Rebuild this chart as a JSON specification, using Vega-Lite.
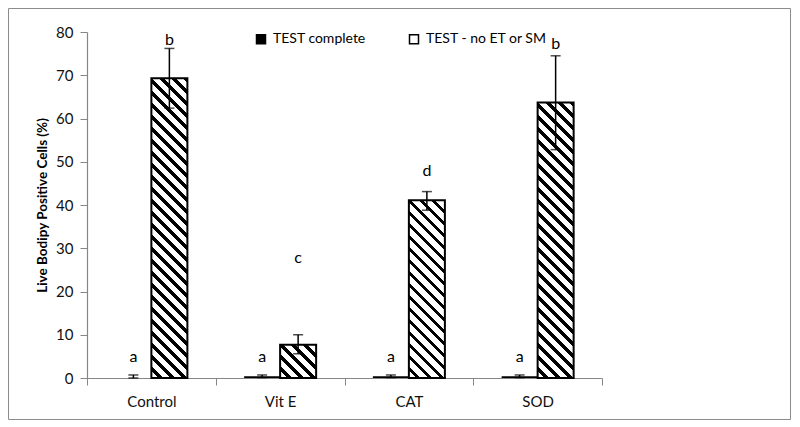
{
  "$schema": "https://vega.github.io/schema/vega-lite/v6.json",
  "width": 782,
  "height": 411,
  "autosize": {"type": "none"},
  "padding": {"left": 8, "top": 8, "right": 10, "bottom": 8},
  "background": "white",
  "config": {
    "font": "Lato",
    "view": {"stroke": "#8c8c8c", "strokeWidth": 1}
  },
  "data": {
    "values": [
      {"cat": "Control", "series": "TEST complete", "value": 0, "lo": 0, "hi": 0.7, "letter": "a", "ly": 3.7},
      {"cat": "Control", "series": "TEST - no ET or SM", "value": 69.3, "lo": 62.4, "hi": 76.2, "letter": "b", "ly": 77.0},
      {"cat": "Vit E", "series": "TEST complete", "value": 0.4, "lo": 0.1, "hi": 0.7, "letter": "a", "ly": 3.7},
      {"cat": "Vit E", "series": "TEST - no ET or SM", "value": 7.7, "lo": 5.6, "hi": 10.0, "letter": "c", "ly": 26.6},
      {"cat": "CAT", "series": "TEST complete", "value": 0.4, "lo": 0.1, "hi": 0.7, "letter": "a", "ly": 3.7},
      {"cat": "CAT", "series": "TEST - no ET or SM", "value": 41.1, "lo": 38.8, "hi": 43.1, "letter": "d", "ly": 46.7},
      {"cat": "SOD", "series": "TEST complete", "value": 0.4, "lo": 0.1, "hi": 0.7, "letter": "a", "ly": 3.7},
      {"cat": "SOD", "series": "TEST - no ET or SM", "value": 63.7, "lo": 52.8, "hi": 74.5, "letter": "b", "ly": 76.1}
    ]
  },
  "encoding": {
    "x": {
      "field": "cat", "type": "nominal",
      "sort": ["Control", "Vit E", "CAT", "SOD"],
      "scale": {"range": [79, 594], "paddingInner": 0, "paddingOuter": 0},
      "axis": {
        "title": null, "offset": -41, "labelAngle": 0,
        "labelFont": "Lato", "labelFontSize": 15, "labelColor": "#111",
        "labelPadding": 9, "tickBand": "extent", "tickSize": 7,
        "tickColor": "#868686", "domainColor": "#868686", "domainWidth": 1.2
      }
    },
    "xOffset": {
      "field": "series", "type": "nominal",
      "scale": {"domain": ["TEST complete", "TEST - no ET or SM"], "paddingInner": 0, "paddingOuter": 0.788}
    }
  },
  "layer": [
    {
      "transform": [{"filter": "datum.series === 'TEST complete'"}],
      "mark": {"type": "bar", "strokeWidth": 0},
      "encoding": {
        "y": {
          "field": "value", "type": "quantitative",
          "scale": {"domain": [0, 80], "range": [370, 24], "nice": false, "zero": true},
          "axis": {
            "title": "Live Bodipy Positive Cells (%)", "offset": -79,
            "values": [0, 10, 20, 30, 40, 50, 60, 70, 80],
            "grid": false, "labelFont": "Lato", "labelFontSize": 15, "labelColor": "#111",
            "labelPadding": 7, "tickSize": 7, "tickColor": "#868686",
            "domainColor": "#868686", "domainWidth": 1.2,
            "titleFont": "Lato", "titleFontSize": 13.5, "titleFontWeight": "bold",
            "titleColor": "#000", "titlePadding": 6
          }
        },
        "color": {
          "field": "series", "type": "nominal",
          "scale": {"domain": ["TEST complete", "TEST - no ET or SM"], "range": ["#000000", "#ffffff"]},
          "legend": {
            "title": null, "orient": "none", "direction": "horizontal",
            "legendX": 246, "legendY": 24, "padding": 0,
            "symbolType": "square", "symbolSize": 81,
            "symbolStrokeColor": "#000", "symbolStrokeWidth": 1.5,
            "labelFont": "Lato", "labelFontSize": 14, "labelColor": "#000",
            "labelOffset": 5, "columnPadding": 40,
            "encode": {"symbols": {"update": {"stroke": {"value": "#000"}, "strokeWidth": {"value": 1.5}}}}
          }
        }
      }
    },
    {
      "transform": [{"filter": "datum.cat === 'Control' && datum.series === 'TEST - no ET or SM'"}],
      "mark": {"type": "bar", "stroke": "#000", "strokeWidth": 2,
        "fill": {"gradient": "linear", "x1": 0, "y1": 1, "x2": 0.13275, "y2": -0.10517, "stops": [
          {"offset":0,"color":"#fff"},{"offset":0.02143,"color":"#fff"},{"offset":0.02143,"color":"#000"},{"offset":0.03571,"color":"#000"},
          {"offset":0.03571,"color":"#fff"},{"offset":0.05714,"color":"#fff"},{"offset":0.05714,"color":"#000"},{"offset":0.07143,"color":"#000"},
          {"offset":0.07143,"color":"#fff"},{"offset":0.09286,"color":"#fff"},{"offset":0.09286,"color":"#000"},{"offset":0.10714,"color":"#000"},
          {"offset":0.10714,"color":"#fff"},{"offset":0.12857,"color":"#fff"},{"offset":0.12857,"color":"#000"},{"offset":0.14286,"color":"#000"},
          {"offset":0.14286,"color":"#fff"},{"offset":0.16429,"color":"#fff"},{"offset":0.16429,"color":"#000"},{"offset":0.17857,"color":"#000"},
          {"offset":0.17857,"color":"#fff"},{"offset":0.2,"color":"#fff"},{"offset":0.2,"color":"#000"},{"offset":0.21429,"color":"#000"},
          {"offset":0.21429,"color":"#fff"},{"offset":0.23571,"color":"#fff"},{"offset":0.23571,"color":"#000"},{"offset":0.25,"color":"#000"},
          {"offset":0.25,"color":"#fff"},{"offset":0.27143,"color":"#fff"},{"offset":0.27143,"color":"#000"},{"offset":0.28571,"color":"#000"},
          {"offset":0.28571,"color":"#fff"},{"offset":0.30714,"color":"#fff"},{"offset":0.30714,"color":"#000"},{"offset":0.32143,"color":"#000"},
          {"offset":0.32143,"color":"#fff"},{"offset":0.34286,"color":"#fff"},{"offset":0.34286,"color":"#000"},{"offset":0.35714,"color":"#000"},
          {"offset":0.35714,"color":"#fff"},{"offset":0.37857,"color":"#fff"},{"offset":0.37857,"color":"#000"},{"offset":0.39286,"color":"#000"},
          {"offset":0.39286,"color":"#fff"},{"offset":0.41429,"color":"#fff"},{"offset":0.41429,"color":"#000"},{"offset":0.42857,"color":"#000"},
          {"offset":0.42857,"color":"#fff"},{"offset":0.45,"color":"#fff"},{"offset":0.45,"color":"#000"},{"offset":0.46429,"color":"#000"},
          {"offset":0.46429,"color":"#fff"},{"offset":0.48571,"color":"#fff"},{"offset":0.48571,"color":"#000"},{"offset":0.5,"color":"#000"},
          {"offset":0.5,"color":"#fff"},{"offset":0.52143,"color":"#fff"},{"offset":0.52143,"color":"#000"},{"offset":0.53571,"color":"#000"},
          {"offset":0.53571,"color":"#fff"},{"offset":0.55714,"color":"#fff"},{"offset":0.55714,"color":"#000"},{"offset":0.57143,"color":"#000"},
          {"offset":0.57143,"color":"#fff"},{"offset":0.59286,"color":"#fff"},{"offset":0.59286,"color":"#000"},{"offset":0.60714,"color":"#000"},
          {"offset":0.60714,"color":"#fff"},{"offset":0.62857,"color":"#fff"},{"offset":0.62857,"color":"#000"},{"offset":0.64286,"color":"#000"},
          {"offset":0.64286,"color":"#fff"},{"offset":0.66429,"color":"#fff"},{"offset":0.66429,"color":"#000"},{"offset":0.67857,"color":"#000"},
          {"offset":0.67857,"color":"#fff"},{"offset":0.7,"color":"#fff"},{"offset":0.7,"color":"#000"},{"offset":0.71429,"color":"#000"},
          {"offset":0.71429,"color":"#fff"},{"offset":0.73571,"color":"#fff"},{"offset":0.73571,"color":"#000"},{"offset":0.75,"color":"#000"},
          {"offset":0.75,"color":"#fff"},{"offset":0.77143,"color":"#fff"},{"offset":0.77143,"color":"#000"},{"offset":0.78571,"color":"#000"},
          {"offset":0.78571,"color":"#fff"},{"offset":0.80714,"color":"#fff"},{"offset":0.80714,"color":"#000"},{"offset":0.82143,"color":"#000"},
          {"offset":0.82143,"color":"#fff"},{"offset":0.84286,"color":"#fff"},{"offset":0.84286,"color":"#000"},{"offset":0.85714,"color":"#000"},
          {"offset":0.85714,"color":"#fff"},{"offset":0.87857,"color":"#fff"},{"offset":0.87857,"color":"#000"},{"offset":0.89286,"color":"#000"},
          {"offset":0.89286,"color":"#fff"},{"offset":0.91429,"color":"#fff"},{"offset":0.91429,"color":"#000"},{"offset":0.92857,"color":"#000"},
          {"offset":0.92857,"color":"#fff"},{"offset":0.95,"color":"#fff"},{"offset":0.95,"color":"#000"},{"offset":0.96429,"color":"#000"},
          {"offset":0.96429,"color":"#fff"},{"offset":0.98571,"color":"#fff"},{"offset":0.98571,"color":"#000"},{"offset":1,"color":"#000"}
        ]}},
      "encoding": {"y": {"field": "value", "type": "quantitative"}}
    },
    {
      "transform": [{"filter": "datum.cat === 'Vit E' && datum.series === 'TEST - no ET or SM'"}],
      "mark": {"type": "bar", "stroke": "#000", "strokeWidth": 2,
        "fill": {"gradient": "linear", "x1": 0, "y1": 1, "x2": 5.0297, "y2": -3.6525, "stops": [
          {"offset":0,"color":"#fff"},{"offset":0.02143,"color":"#fff"},{"offset":0.02143,"color":"#000"},{"offset":0.03571,"color":"#000"},
          {"offset":0.03571,"color":"#fff"},{"offset":0.05714,"color":"#fff"},{"offset":0.05714,"color":"#000"},{"offset":0.07143,"color":"#000"},
          {"offset":0.07143,"color":"#fff"},{"offset":0.09286,"color":"#fff"},{"offset":0.09286,"color":"#000"},{"offset":0.10714,"color":"#000"},
          {"offset":0.10714,"color":"#fff"},{"offset":0.12857,"color":"#fff"},{"offset":0.12857,"color":"#000"},{"offset":0.14286,"color":"#000"},
          {"offset":0.14286,"color":"#fff"},{"offset":0.16429,"color":"#fff"},{"offset":0.16429,"color":"#000"},{"offset":0.17857,"color":"#000"},
          {"offset":0.17857,"color":"#fff"},{"offset":0.2,"color":"#fff"},{"offset":0.2,"color":"#000"},{"offset":0.21429,"color":"#000"},
          {"offset":0.21429,"color":"#fff"},{"offset":0.23571,"color":"#fff"},{"offset":0.23571,"color":"#000"},{"offset":0.25,"color":"#000"},
          {"offset":0.25,"color":"#fff"},{"offset":0.27143,"color":"#fff"},{"offset":0.27143,"color":"#000"},{"offset":0.28571,"color":"#000"},
          {"offset":0.28571,"color":"#fff"},{"offset":0.30714,"color":"#fff"},{"offset":0.30714,"color":"#000"},{"offset":0.32143,"color":"#000"},
          {"offset":0.32143,"color":"#fff"},{"offset":0.34286,"color":"#fff"},{"offset":0.34286,"color":"#000"},{"offset":0.35714,"color":"#000"},
          {"offset":0.35714,"color":"#fff"},{"offset":0.37857,"color":"#fff"},{"offset":0.37857,"color":"#000"},{"offset":0.39286,"color":"#000"},
          {"offset":0.39286,"color":"#fff"},{"offset":0.41429,"color":"#fff"},{"offset":0.41429,"color":"#000"},{"offset":0.42857,"color":"#000"},
          {"offset":0.42857,"color":"#fff"},{"offset":0.45,"color":"#fff"},{"offset":0.45,"color":"#000"},{"offset":0.46429,"color":"#000"},
          {"offset":0.46429,"color":"#fff"},{"offset":0.48571,"color":"#fff"},{"offset":0.48571,"color":"#000"},{"offset":0.5,"color":"#000"},
          {"offset":0.5,"color":"#fff"},{"offset":0.52143,"color":"#fff"},{"offset":0.52143,"color":"#000"},{"offset":0.53571,"color":"#000"},
          {"offset":0.53571,"color":"#fff"},{"offset":0.55714,"color":"#fff"},{"offset":0.55714,"color":"#000"},{"offset":0.57143,"color":"#000"},
          {"offset":0.57143,"color":"#fff"},{"offset":0.59286,"color":"#fff"},{"offset":0.59286,"color":"#000"},{"offset":0.60714,"color":"#000"},
          {"offset":0.60714,"color":"#fff"},{"offset":0.62857,"color":"#fff"},{"offset":0.62857,"color":"#000"},{"offset":0.64286,"color":"#000"},
          {"offset":0.64286,"color":"#fff"},{"offset":0.66429,"color":"#fff"},{"offset":0.66429,"color":"#000"},{"offset":0.67857,"color":"#000"},
          {"offset":0.67857,"color":"#fff"},{"offset":0.7,"color":"#fff"},{"offset":0.7,"color":"#000"},{"offset":0.71429,"color":"#000"},
          {"offset":0.71429,"color":"#fff"},{"offset":0.73571,"color":"#fff"},{"offset":0.73571,"color":"#000"},{"offset":0.75,"color":"#000"},
          {"offset":0.75,"color":"#fff"},{"offset":0.77143,"color":"#fff"},{"offset":0.77143,"color":"#000"},{"offset":0.78571,"color":"#000"},
          {"offset":0.78571,"color":"#fff"},{"offset":0.80714,"color":"#fff"},{"offset":0.80714,"color":"#000"},{"offset":0.82143,"color":"#000"},
          {"offset":0.82143,"color":"#fff"},{"offset":0.84286,"color":"#fff"},{"offset":0.84286,"color":"#000"},{"offset":0.85714,"color":"#000"},
          {"offset":0.85714,"color":"#fff"},{"offset":0.87857,"color":"#fff"},{"offset":0.87857,"color":"#000"},{"offset":0.89286,"color":"#000"},
          {"offset":0.89286,"color":"#fff"},{"offset":0.91429,"color":"#fff"},{"offset":0.91429,"color":"#000"},{"offset":0.92857,"color":"#000"},
          {"offset":0.92857,"color":"#fff"},{"offset":0.95,"color":"#fff"},{"offset":0.95,"color":"#000"},{"offset":0.96429,"color":"#000"},
          {"offset":0.96429,"color":"#fff"},{"offset":0.98571,"color":"#fff"},{"offset":0.98571,"color":"#000"},{"offset":1,"color":"#000"}
        ]}},
      "encoding": {"y": {"field": "value", "type": "quantitative"}}
    },
    {
      "transform": [{"filter": "datum.cat === 'CAT' && datum.series === 'TEST - no ET or SM'"}],
      "mark": {"type": "bar", "stroke": "#000", "strokeWidth": 2,
        "fill": {"gradient": "linear", "x1": 0, "y1": 1, "x2": 0.36772, "y2": -0.81572, "stops": [
          {"offset":0,"color":"#fff"},{"offset":0.02143,"color":"#fff"},{"offset":0.02143,"color":"#000"},{"offset":0.03571,"color":"#000"},
          {"offset":0.03571,"color":"#fff"},{"offset":0.05714,"color":"#fff"},{"offset":0.05714,"color":"#000"},{"offset":0.07143,"color":"#000"},
          {"offset":0.07143,"color":"#fff"},{"offset":0.09286,"color":"#fff"},{"offset":0.09286,"color":"#000"},{"offset":0.10714,"color":"#000"},
          {"offset":0.10714,"color":"#fff"},{"offset":0.12857,"color":"#fff"},{"offset":0.12857,"color":"#000"},{"offset":0.14286,"color":"#000"},
          {"offset":0.14286,"color":"#fff"},{"offset":0.16429,"color":"#fff"},{"offset":0.16429,"color":"#000"},{"offset":0.17857,"color":"#000"},
          {"offset":0.17857,"color":"#fff"},{"offset":0.2,"color":"#fff"},{"offset":0.2,"color":"#000"},{"offset":0.21429,"color":"#000"},
          {"offset":0.21429,"color":"#fff"},{"offset":0.23571,"color":"#fff"},{"offset":0.23571,"color":"#000"},{"offset":0.25,"color":"#000"},
          {"offset":0.25,"color":"#fff"},{"offset":0.27143,"color":"#fff"},{"offset":0.27143,"color":"#000"},{"offset":0.28571,"color":"#000"},
          {"offset":0.28571,"color":"#fff"},{"offset":0.30714,"color":"#fff"},{"offset":0.30714,"color":"#000"},{"offset":0.32143,"color":"#000"},
          {"offset":0.32143,"color":"#fff"},{"offset":0.34286,"color":"#fff"},{"offset":0.34286,"color":"#000"},{"offset":0.35714,"color":"#000"},
          {"offset":0.35714,"color":"#fff"},{"offset":0.37857,"color":"#fff"},{"offset":0.37857,"color":"#000"},{"offset":0.39286,"color":"#000"},
          {"offset":0.39286,"color":"#fff"},{"offset":0.41429,"color":"#fff"},{"offset":0.41429,"color":"#000"},{"offset":0.42857,"color":"#000"},
          {"offset":0.42857,"color":"#fff"},{"offset":0.45,"color":"#fff"},{"offset":0.45,"color":"#000"},{"offset":0.46429,"color":"#000"},
          {"offset":0.46429,"color":"#fff"},{"offset":0.48571,"color":"#fff"},{"offset":0.48571,"color":"#000"},{"offset":0.5,"color":"#000"},
          {"offset":0.5,"color":"#fff"},{"offset":0.52143,"color":"#fff"},{"offset":0.52143,"color":"#000"},{"offset":0.53571,"color":"#000"},
          {"offset":0.53571,"color":"#fff"},{"offset":0.55714,"color":"#fff"},{"offset":0.55714,"color":"#000"},{"offset":0.57143,"color":"#000"},
          {"offset":0.57143,"color":"#fff"},{"offset":0.59286,"color":"#fff"},{"offset":0.59286,"color":"#000"},{"offset":0.60714,"color":"#000"},
          {"offset":0.60714,"color":"#fff"},{"offset":0.62857,"color":"#fff"},{"offset":0.62857,"color":"#000"},{"offset":0.64286,"color":"#000"},
          {"offset":0.64286,"color":"#fff"},{"offset":0.66429,"color":"#fff"},{"offset":0.66429,"color":"#000"},{"offset":0.67857,"color":"#000"},
          {"offset":0.67857,"color":"#fff"},{"offset":0.7,"color":"#fff"},{"offset":0.7,"color":"#000"},{"offset":0.71429,"color":"#000"},
          {"offset":0.71429,"color":"#fff"},{"offset":0.73571,"color":"#fff"},{"offset":0.73571,"color":"#000"},{"offset":0.75,"color":"#000"},
          {"offset":0.75,"color":"#fff"},{"offset":0.77143,"color":"#fff"},{"offset":0.77143,"color":"#000"},{"offset":0.78571,"color":"#000"},
          {"offset":0.78571,"color":"#fff"},{"offset":0.80714,"color":"#fff"},{"offset":0.80714,"color":"#000"},{"offset":0.82143,"color":"#000"},
          {"offset":0.82143,"color":"#fff"},{"offset":0.84286,"color":"#fff"},{"offset":0.84286,"color":"#000"},{"offset":0.85714,"color":"#000"},
          {"offset":0.85714,"color":"#fff"},{"offset":0.87857,"color":"#fff"},{"offset":0.87857,"color":"#000"},{"offset":0.89286,"color":"#000"},
          {"offset":0.89286,"color":"#fff"},{"offset":0.91429,"color":"#fff"},{"offset":0.91429,"color":"#000"},{"offset":0.92857,"color":"#000"},
          {"offset":0.92857,"color":"#fff"},{"offset":0.95,"color":"#fff"},{"offset":0.95,"color":"#000"},{"offset":0.96429,"color":"#000"},
          {"offset":0.96429,"color":"#fff"},{"offset":0.98571,"color":"#fff"},{"offset":0.98571,"color":"#000"},{"offset":1,"color":"#000"}
        ]}},
      "encoding": {"y": {"field": "value", "type": "quantitative"}}
    },
    {
      "transform": [{"filter": "datum.cat === 'SOD' && datum.series === 'TEST - no ET or SM'"}],
      "mark": {"type": "bar", "stroke": "#000", "strokeWidth": 2,
        "fill": {"gradient": "linear", "x1": 0, "y1": 1, "x2": 0.15669, "y2": -0.19912, "stops": [
          {"offset":0,"color":"#fff"},{"offset":0.02143,"color":"#fff"},{"offset":0.02143,"color":"#000"},{"offset":0.03571,"color":"#000"},
          {"offset":0.03571,"color":"#fff"},{"offset":0.05714,"color":"#fff"},{"offset":0.05714,"color":"#000"},{"offset":0.07143,"color":"#000"},
          {"offset":0.07143,"color":"#fff"},{"offset":0.09286,"color":"#fff"},{"offset":0.09286,"color":"#000"},{"offset":0.10714,"color":"#000"},
          {"offset":0.10714,"color":"#fff"},{"offset":0.12857,"color":"#fff"},{"offset":0.12857,"color":"#000"},{"offset":0.14286,"color":"#000"},
          {"offset":0.14286,"color":"#fff"},{"offset":0.16429,"color":"#fff"},{"offset":0.16429,"color":"#000"},{"offset":0.17857,"color":"#000"},
          {"offset":0.17857,"color":"#fff"},{"offset":0.2,"color":"#fff"},{"offset":0.2,"color":"#000"},{"offset":0.21429,"color":"#000"},
          {"offset":0.21429,"color":"#fff"},{"offset":0.23571,"color":"#fff"},{"offset":0.23571,"color":"#000"},{"offset":0.25,"color":"#000"},
          {"offset":0.25,"color":"#fff"},{"offset":0.27143,"color":"#fff"},{"offset":0.27143,"color":"#000"},{"offset":0.28571,"color":"#000"},
          {"offset":0.28571,"color":"#fff"},{"offset":0.30714,"color":"#fff"},{"offset":0.30714,"color":"#000"},{"offset":0.32143,"color":"#000"},
          {"offset":0.32143,"color":"#fff"},{"offset":0.34286,"color":"#fff"},{"offset":0.34286,"color":"#000"},{"offset":0.35714,"color":"#000"},
          {"offset":0.35714,"color":"#fff"},{"offset":0.37857,"color":"#fff"},{"offset":0.37857,"color":"#000"},{"offset":0.39286,"color":"#000"},
          {"offset":0.39286,"color":"#fff"},{"offset":0.41429,"color":"#fff"},{"offset":0.41429,"color":"#000"},{"offset":0.42857,"color":"#000"},
          {"offset":0.42857,"color":"#fff"},{"offset":0.45,"color":"#fff"},{"offset":0.45,"color":"#000"},{"offset":0.46429,"color":"#000"},
          {"offset":0.46429,"color":"#fff"},{"offset":0.48571,"color":"#fff"},{"offset":0.48571,"color":"#000"},{"offset":0.5,"color":"#000"},
          {"offset":0.5,"color":"#fff"},{"offset":0.52143,"color":"#fff"},{"offset":0.52143,"color":"#000"},{"offset":0.53571,"color":"#000"},
          {"offset":0.53571,"color":"#fff"},{"offset":0.55714,"color":"#fff"},{"offset":0.55714,"color":"#000"},{"offset":0.57143,"color":"#000"},
          {"offset":0.57143,"color":"#fff"},{"offset":0.59286,"color":"#fff"},{"offset":0.59286,"color":"#000"},{"offset":0.60714,"color":"#000"},
          {"offset":0.60714,"color":"#fff"},{"offset":0.62857,"color":"#fff"},{"offset":0.62857,"color":"#000"},{"offset":0.64286,"color":"#000"},
          {"offset":0.64286,"color":"#fff"},{"offset":0.66429,"color":"#fff"},{"offset":0.66429,"color":"#000"},{"offset":0.67857,"color":"#000"},
          {"offset":0.67857,"color":"#fff"},{"offset":0.7,"color":"#fff"},{"offset":0.7,"color":"#000"},{"offset":0.71429,"color":"#000"},
          {"offset":0.71429,"color":"#fff"},{"offset":0.73571,"color":"#fff"},{"offset":0.73571,"color":"#000"},{"offset":0.75,"color":"#000"},
          {"offset":0.75,"color":"#fff"},{"offset":0.77143,"color":"#fff"},{"offset":0.77143,"color":"#000"},{"offset":0.78571,"color":"#000"},
          {"offset":0.78571,"color":"#fff"},{"offset":0.80714,"color":"#fff"},{"offset":0.80714,"color":"#000"},{"offset":0.82143,"color":"#000"},
          {"offset":0.82143,"color":"#fff"},{"offset":0.84286,"color":"#fff"},{"offset":0.84286,"color":"#000"},{"offset":0.85714,"color":"#000"},
          {"offset":0.85714,"color":"#fff"},{"offset":0.87857,"color":"#fff"},{"offset":0.87857,"color":"#000"},{"offset":0.89286,"color":"#000"},
          {"offset":0.89286,"color":"#fff"},{"offset":0.91429,"color":"#fff"},{"offset":0.91429,"color":"#000"},{"offset":0.92857,"color":"#000"},
          {"offset":0.92857,"color":"#fff"},{"offset":0.95,"color":"#fff"},{"offset":0.95,"color":"#000"},{"offset":0.96429,"color":"#000"},
          {"offset":0.96429,"color":"#fff"},{"offset":0.98571,"color":"#fff"},{"offset":0.98571,"color":"#000"},{"offset":1,"color":"#000"}
        ]}},
      "encoding": {"y": {"field": "value", "type": "quantitative"}}
    },
    {
      "mark": {"type": "rule", "color": "#000", "strokeWidth": 1.5},
      "encoding": {
        "y": {"field": "lo", "type": "quantitative"},
        "y2": {"field": "hi"}
      }
    },
    {
      "mark": {"type": "tick", "color": "#000", "size": 10, "thickness": 1.5, "orient": "horizontal"},
      "encoding": {"y": {"field": "hi", "type": "quantitative"}}
    },
    {
      "mark": {"type": "tick", "color": "#000", "size": 10, "thickness": 1.5, "orient": "horizontal"},
      "encoding": {"y": {"field": "lo", "type": "quantitative"}}
    },
    {
      "mark": {"type": "text", "font": "Lato", "fontSize": 16, "color": "#000", "align": "center", "baseline": "alphabetic"},
      "encoding": {
        "y": {"field": "ly", "type": "quantitative"},
        "text": {"field": "letter"}
      }
    }
  ]
}
